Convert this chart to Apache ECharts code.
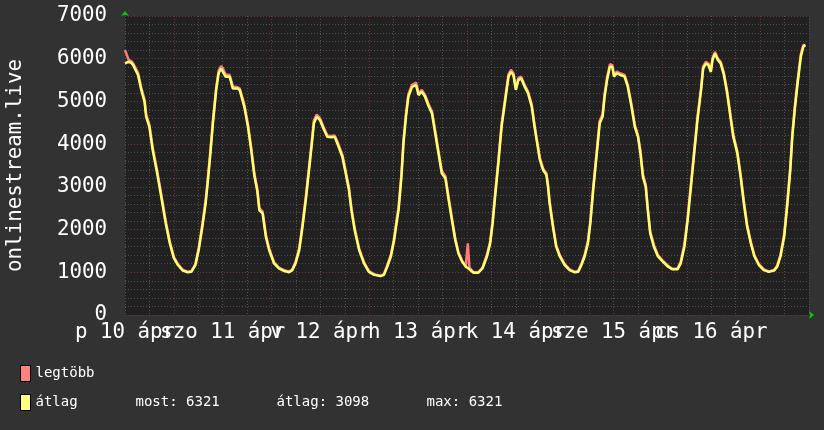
<!DOCTYPE html>
<html>
<head>
<meta charset="utf-8">
<script src="https://cdn.jsdelivr.net/npm/echarts@6/dist/echarts.min.js"></script>
<style>
html,body{margin:0;padding:0;background:#323232;}
#chart{width:824px;height:430px;}
</style>
</head>
<body>
<div id="chart"></div>
<script>
// hours since Fri 10 Apr 00:00
const hours = [0.0,0.9,1.6,2.0,3.2,4.0,4.8,5.2,6.0,6.8,7.9,8.9,10.0,11.0,12.0,13.0,14.2,15.4,16.3,17.3,18.1,19.0,19.8,20.3,20.9,21.6,22.4,23.0,23.6,24.0,24.7,25.7,26.5,27.7,28.2,29.3,30.2,31.0,31.8,32.5,33.0,33.8,34.6,35.4,36.6,37.8,39.1,40.3,41.1,41.9,42.8,43.6,44.4,45.2,45.9,46.4,47.1,47.9,48.9,49.7,50.7,51.5,52.3,53.4,54.2,55.0,55.6,56.4,57.5,58.7,59.9,61.2,62.8,63.6,64.4,65.3,66.1,66.7,67.2,67.9,68.4,69.0,69.6,70.5,71.5,72.1,72.9,73.7,74.6,75.4,76.2,77.0,77.8,78.7,79.5,80.3,81.1,81.9,82.8,83.7,84.2,84.6,85.6,86.8,87.8,88.9,89.7,90.3,90.9,91.7,92.5,93.4,94.2,94.8,95.4,96.0,96.6,97.3,98.2,99.0,99.9,100.6,101.1,101.9,102.7,103.5,103.9,104.3,105.1,105.9,106.8,108.0,109.2,110.5,111.3,112.1,112.9,113.7,114.3,115.0,115.8,116.6,117.3,117.8,118.4,119.1,119.7,120.1,120.8,121.6,122.7,123.5,124.4,125.2,126.0,126.6,127.2,127.9,128.4,129.0,129.9,130.9,132.1,133.4,134.4,135.7,136.5,137.4,138.2,139.0,139.8,140.6,141.5,142.0,142.7,143.3,143.9,144.3,144.9,145.6,146.3,147.1,147.9,148.7,149.4,150.4,151.2,152.0,152.8,153.7,154.6,155.7,156.9,158.1,159.4,160.2,161.0,161.9,162.7,163.4,163.9,164.5,165.2,166.0,166.6,167.1];

const maxValues = [6200,5970,5940,5890,5670,5320,5040,4700,4450,3920,3380,2830,2200,1720,1360,1190,1060,1010,1030,1200,1570,2130,2680,3150,3770,4560,5330,5720,5830,5780,5630,5620,5350,5330,5300,4930,4460,3920,3300,2960,2500,2420,1880,1560,1240,1110,1050,1020,1070,1250,1570,2130,2760,3460,4090,4560,4690,4610,4370,4200,4190,4200,4030,3750,3380,2990,2520,2040,1560,1240,1030,950,920,960,1160,1410,1800,2220,2530,3310,4090,4700,5170,5390,5440,5200,5270,5150,4930,4770,4310,3840,3380,3250,2750,2270,1800,1470,1270,1150,1680,1110,1000,1000,1110,1410,1730,2210,2840,3620,4480,5100,5640,5740,5660,5310,5550,5580,5380,5230,4930,4450,4150,3680,3430,3320,3050,2660,2120,1640,1400,1190,1070,1010,1030,1200,1410,1730,2210,3000,3770,4550,4700,5170,5560,5870,5850,5620,5700,5660,5620,5390,4930,4460,4210,3840,3300,3050,2510,1960,1640,1400,1270,1150,1080,1090,1250,1660,2290,3070,3850,4630,5330,5820,5930,5890,5740,6020,6160,6010,5930,5670,5240,4700,4230,3830,3300,2670,2120,1720,1400,1190,1070,1020,1050,1160,1410,1890,2680,3460,4240,4870,5490,6110,6321,6321];

const avgValues = [5890,5930,5900,5850,5620,5270,4990,4640,4400,3860,3320,2770,2150,1680,1330,1170,1040,1000,1010,1170,1520,2070,2610,3080,3700,4490,5270,5660,5770,5730,5580,5580,5300,5300,5260,4880,4410,3860,3240,2900,2450,2380,1830,1520,1210,1090,1030,1000,1050,1210,1520,2070,2690,3390,4020,4490,4640,4560,4330,4170,4160,4170,3980,3700,3320,2930,2460,1990,1520,1210,1010,940,910,940,1130,1370,1750,2150,2460,3240,4020,4640,5110,5340,5380,5150,5230,5110,4880,4720,4250,3780,3320,3200,2690,2220,1760,1440,1250,1130,1100,1090,990,990,1090,1370,1680,2150,2770,3550,4410,5030,5580,5690,5620,5270,5500,5540,5340,5190,4880,4400,4100,3630,3390,3280,3000,2610,2070,1600,1370,1170,1050,1000,1010,1170,1370,1680,2150,2930,3700,4490,4640,5110,5500,5810,5810,5580,5660,5620,5580,5340,4880,4410,4170,3780,3240,3000,2460,1910,1600,1370,1250,1130,1070,1070,1210,1600,2220,3000,3780,4560,5270,5770,5890,5850,5690,5970,6120,5970,5890,5620,5190,4640,4170,3780,3240,2610,2070,1680,1370,1170,1050,1010,1040,1130,1370,1830,2610,3390,4170,4800,5420,6050,6280,6321];

const dayLabels = ['p 10 ápr','szo 11 ápr','v 12 ápr','h 13 ápr','k 14 ápr','sze 15 ápr','cs 16 ápr'];
const seriesNames = ['legtöbb','átlag'];
const statLabels = ['most','átlag','max'];
const statValues = [6321,3098,6321];
const yAxisName = 'onlinestream.live';

const MONO = 'DejaVu Sans Mono';
const MINOR = '#505050';
const MAJOR = '#6e3434';
const LEG = {color:'#fff', fontFamily:MONO, fontSize:14, lineHeight:16};

const chart = echarts.init(document.getElementById('chart'), null, {renderer:'canvas'});
const option = {
  backgroundColor: '#323232',
  animation: false,
  grid: {left:125, right:15, top:16, bottom:115, show:true, backgroundColor:'#212121', borderWidth:0, containLabel:false, outerBoundsMode:'none'},
  legend: {
    orient:'vertical', left:20, top:365, padding:0, itemWidth:10, itemHeight:16, itemGap:12, itemTextGap:7,
    icon:'rect', itemStyle:{borderColor:'#000', borderWidth:1},
    selectedMode:false,
    textStyle: Object.assign({}, LEG, {
      rich:{
        n: Object.assign({width:100}, LEG),
        s1: Object.assign({width:141}, LEG),
        s2: Object.assign({width:150}, LEG),
        s3: Object.assign({}, LEG)
      }}),
    formatter: function(name){
      if (name === seriesNames[1]) {
        return '{n|' + name + '}{s1|' + statLabels[0] + ': ' + statValues[0] + '}{s2|' + statLabels[1] + ': ' + statValues[1] + '}{s3|' + statLabels[2] + ': ' + statValues[2] + '}';
      }
      return '{n|' + name + '}';
    },
    data: seriesNames
  },
  xAxis: {
    type:'value', min:0, max:168, interval:6,
    axisLine:{show:true, onZero:false, symbol:['none','arrow'], symbolSize:[6,5], symbolOffset:[0,5], lineStyle:{color:'#00d000', width:0}},
    axisTick:{show:false},
    axisLabel:{color:'#fff', fontFamily:MONO, fontSize:20.8, margin:7,
      formatter:function(v){ const i = v/24; return (Number.isInteger(i) && i < dayLabels.length) ? dayLabels[i] : ''; }},
    splitLine:{show:true, lineStyle:{color:[MINOR,MINOR,MAJOR,MINOR], type:[1,2], width:1}}
  },
  yAxis: {
    type:'value', min:0, max:7000, interval:200,
    name: yAxisName, nameLocation:'middle', nameRotate:90, nameGap:99,
    nameTextStyle:{color:'#fff', fontFamily:MONO, fontSize:20.8},
    axisLine:{show:true, symbol:['none','arrow'], symbolSize:[6,5], symbolOffset:[0,5], lineStyle:{color:'#00d000', width:0}},
    axisTick:{show:false},
    axisLabel:{color:'#fff', fontFamily:MONO, fontSize:20.8, margin:18,
      formatter:function(v){ return v % 1000 === 0 ? String(v) : ''; }},
    splitLine:{show:true, lineStyle:{color:[MAJOR,MINOR,MINOR,MINOR,MINOR], type:[1,2], width:1}}
  },
  series: [
    {name:seriesNames[0], type:'line', showSymbol:false, color:'#ff8080',
     lineStyle:{color:'#ff7a7a', width:2.5}, data: hours.map((h,i)=>[h, maxValues[i]])},
    {name:seriesNames[1], type:'line', showSymbol:false, color:'#ffff80',
     lineStyle:{color:'#ffff70', width:2.5}, data: hours.map((h,i)=>[h, avgValues[i]])}
  ]
};
chart.setOption(option);
</script>
</body>
</html>
